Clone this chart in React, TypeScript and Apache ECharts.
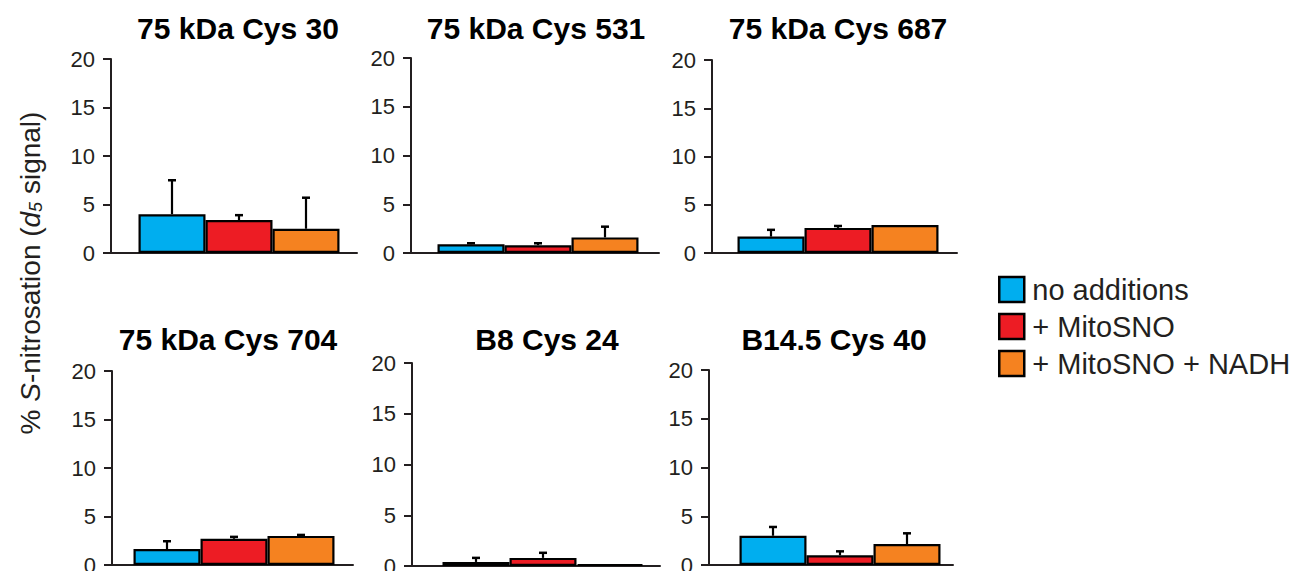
import React, { useEffect, useRef } from "react";
import * as echarts from "echarts";

const FONT = "'Liberation Sans', Arial, Helvetica, sans-serif";
const INK = "#231F20";

// ---- data ----
const panelTitles = [
  "75 kDa Cys 30",
  "75 kDa Cys 531",
  "75 kDa Cys 687",
  "75 kDa Cys 704",
  "B8 Cys 24",
  "B14.5 Cys 40",
];
const seriesNames = ["no additions", "+ MitoSNO", "+ MitoSNO + NADH"];
const seriesColors = ["#00AEEF", "#ED1C24", "#F58220"];

const noAdditions = [4.0, 0.9, 1.7, 1.65, 0.4, 3.0];
const noAdditionsErr = [3.5, 0.1, 0.7, 0.8, 0.4, 0.9];
const mitoSNO = [3.4, 0.8, 2.6, 2.7, 0.8, 1.0];
const mitoSNOErr = [0.5, 0.2, 0.2, 0.2, 0.5, 0.4];
const mitoSNONADH = [2.5, 1.6, 2.9, 3.0, 0.2, 2.15];
const mitoSNONADHErr = [3.2, 1.1, 0, 0.1, 0, 1.1];

const yMin = 0;
const yMax = 20;
const yInterval = 5;

const values = [noAdditions, mitoSNO, mitoSNONADH];
const errors = [noAdditionsErr, mitoSNOErr, mitoSNONADHErr];

// ---- layout ----
const grids = [
  { left: 111, top: 59, width: 246, height: 194 },
  { left: 411, top: 58, width: 248, height: 195 },
  { left: 712, top: 60, width: 245, height: 193 },
  { left: 112, top: 371, width: 241, height: 194 },
  { left: 412, top: 363, width: 248, height: 203 },
  { left: 709, top: 370, width: 244, height: 195 },
];
// horizontal centre of each bar group
const barCenters = [239, 538, 838, 234, 543, 840];
const titlePos = [
  [238, 28],
  [536, 28],
  [838, 28],
  [228, 339],
  [547, 339],
  [834, 339],
];
const BAR_W = 67;

export default function App() {
  const ref = useRef<HTMLDivElement>(null);

  useEffect(() => {
    if (!ref.current) return;
    const chart = echarts.init(ref.current, null, { renderer: "svg" });

    const gridList: any[] = [];
    const xAxis: any[] = [];
    const yAxis: any[] = [];
    const series: any[] = [];

    // axis grids (visible axes)
    grids.forEach((g, p) => {
      gridList.push({ ...g, containLabel: false, outerBoundsMode: "none" });
      xAxis.push({
        type: "category",
        gridIndex: p,
        data: [panelTitles[p]],
        axisLine: { show: true, lineStyle: { color: INK, width: 2 } },
        axisTick: { show: false },
        axisLabel: { show: false },
      });
      yAxis.push({
        type: "value",
        gridIndex: p,
        min: yMin,
        max: yMax,
        interval: yInterval,
        axisLine: { show: true, lineStyle: { color: INK, width: 2 } },
        axisTick: { show: true, length: 8, lineStyle: { color: INK, width: 2 } },
        axisLabel: { fontSize: 22, color: INK, margin: 16, fontFamily: FONT },
        splitLine: { show: false },
      });
    });

    // bar grids (hidden axes, same vertical scale)
    grids.forEach((g, p) => {
      const gi = grids.length + p;
      gridList.push({
        left: barCenters[p] - 120,
        width: 240,
        top: g.top,
        height: g.height,
        containLabel: false,
        outerBoundsMode: "none",
      });
      xAxis.push({
        type: "category",
        gridIndex: gi,
        data: [panelTitles[p]],
        show: false,
      });
      yAxis.push({
        type: "value",
        gridIndex: gi,
        min: yMin,
        max: yMax,
        interval: yInterval,
        show: false,
        splitLine: { show: false },
      });
      seriesNames.forEach((name, k) => {
        series.push({
          type: "bar",
          name,
          xAxisIndex: gi,
          yAxisIndex: gi,
          barWidth: BAR_W,
          barGap: "0%",
          data: [values[k][p]],
          itemStyle: { color: seriesColors[k], borderColor: "#000", borderWidth: 2.2 },
        });
      });
      series.push({
        type: "custom",
        xAxisIndex: gi,
        yAxisIndex: gi,
        z: 5,
        data: seriesNames.map((_, k) => [0, values[k][p], errors[k][p], k]),
        renderItem: (params: any, api: any) => {
          const v = api.value(1);
          const e = api.value(2);
          const k = api.value(3);
          if (!(e > 0)) return { type: "group", children: [] };
          const base = api.coord([0, v]);
          const top = api.coord([0, v + e]);
          const x = base[0] + (k - 1) * BAR_W;
          return {
            type: "group",
            children: [
              {
                type: "line",
                shape: { x1: x, y1: base[1], x2: x, y2: top[1] },
                style: { stroke: "#000", lineWidth: 2.2 },
              },
              {
                type: "line",
                shape: { x1: x - 4, y1: top[1], x2: x + 4, y2: top[1] },
                style: { stroke: "#000", lineWidth: 2.5 },
              },
            ],
          };
        },
      });
    });

    const graphic: any[] = panelTitles.map((t, p) => ({
      type: "text",
      x: titlePos[p][0],
      y: titlePos[p][1],
      style: {
        text: t,
        fontSize: 30,
        fontWeight: "bold",
        fontFamily: FONT,
        fill: "#000",
        align: "center",
        verticalAlign: "middle",
      },
    }));
    graphic.push({
      type: "text",
      x: 30,
      y: 273,
      rotation: Math.PI / 2,
      style: {
        text: "{a|% }{i|S}{a|-nitrosation (}{i|d}{s|5}{a| signal)}",
        align: "center",
        verticalAlign: "middle",
        fill: INK,
        rich: {
          a: { fontSize: 28, fontFamily: FONT, fill: INK, lineHeight: 30 },
          i: { fontSize: 28, fontFamily: FONT, fontStyle: "italic", fill: INK, lineHeight: 30 },
          s: {
            fontSize: 18,
            fontFamily: FONT,
            fontStyle: "italic",
            fill: INK,
            lineHeight: 14,
            verticalAlign: "bottom",
          },
        },
      },
    });

    chart.setOption({
      animation: false,
      grid: gridList,
      xAxis,
      yAxis,
      series,
      graphic,
      legend: {
        data: seriesNames,
        orient: "vertical",
        left: 998,
        top: 275,
        padding: 0,
        itemWidth: 25,
        itemHeight: 25,
        itemGap: 8,
        icon: "rect",
        selectedMode: false,
        textStyle: { fontSize: 29, color: INK, fontFamily: FONT, padding: [0, 0, 0, 3] },
        itemStyle: { borderColor: "#000", borderWidth: 2.5 },
      },
    });

    return () => chart.dispose();
  }, []);

  return (
    <div
      ref={ref}
      style={{ position: "absolute", left: 0, top: 0, width: 1296, height: 571, background: "#fff" }}
    />
  );
}
